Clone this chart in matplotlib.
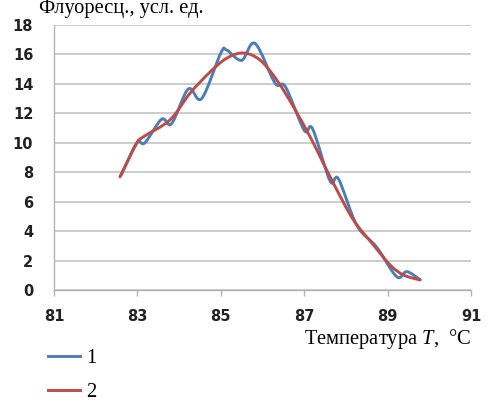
import numpy as np
import matplotlib
matplotlib.use("Agg")
import matplotlib.pyplot as plt
from matplotlib.path import Path
from matplotlib.patches import PathPatch
from matplotlib.lines import Line2D

# measured fluorescence (curve 1) and its fit (curve 2)
t1 = [82.61, 82.74, 83.00, 83.18, 83.58, 83.82, 84.22, 84.54, 85.00, 85.14,
      85.50, 85.82, 86.30, 86.55, 87.00, 87.20, 87.62, 87.82, 88.26, 88.74,
      89.22, 89.46, 89.78]
f1 = [7.8, 8.6, 10.05, 10.0, 11.6, 11.3, 13.65, 13.0, 16.1, 16.3,
      15.6, 16.75, 14.05, 13.8, 10.85, 10.95, 7.4, 7.55, 4.4, 2.9,
      0.9, 1.25, 0.7]

t2 = [82.58, 82.97, 83.14, 83.78, 84.26, 84.74, 85.14, 85.54, 85.94, 86.34,
      86.74, 87.14, 87.38, 87.70, 88.18, 88.66, 89.06, 89.38, 89.78]
f2 = [7.68, 9.9, 10.4, 11.55, 13.36, 14.8, 15.74, 16.1, 15.62, 14.27,
      12.45, 10.41, 9.06, 7.25, 4.76, 3.06, 1.70, 1.02, 0.68]

x_ticks = [81, 83, 85, 87, 89, 91]
y_ticks = [0, 2, 4, 6, 8, 10, 12, 14, 16, 18]

BLUE = "#4a7ebb"
RED = "#be4b48"


def smooth_path(x, y):
    # excel-like smoothed line: catmull-rom segments as cubic beziers
    p = np.column_stack([x, y]).astype(float)
    p = np.vstack([p[0], p, p[-1]])
    verts = [p[1]]
    codes = [Path.MOVETO]
    for i in range(1, len(p) - 2):
        c1 = p[i] + (p[i + 1] - p[i - 1]) / 6
        c2 = p[i + 1] - (p[i + 2] - p[i]) / 6
        verts += [c1, c2, p[i + 1]]
        codes += [Path.CURVE4] * 3
    return Path(verts, codes)


plt.rcParams["mathtext.fontset"] = "custom"
plt.rcParams["mathtext.it"] = "Liberation Serif:italic"
plt.rcParams["mathtext.rm"] = "Liberation Serif"

fig = plt.figure(figsize=(4.97, 4.11), dpi=100)
ax = fig.add_axes([0.1087, 0.2944, 0.8390, 0.6448])

for xs, ys, c in [(t1, f1, BLUE), (t2, f2, RED)]:
    ax.add_patch(PathPatch(smooth_path(xs, ys), fill=False, edgecolor=c,
                           lw=2.1, capstyle="round", joinstyle="round"))

ax.set_xlim(81, 91)
ax.set_ylim(0, 18)
ax.set_xticks(x_ticks)
ax.set_yticks(y_ticks)
ax.grid(axis="y", color="#c4c4c4", lw=1.2)
ax.set_axisbelow(True)
for s in ["top", "right"]:
    ax.spines[s].set_visible(False)
for s in ["left", "bottom"]:
    ax.spines[s].set_color("#b4b4b4")
    ax.spines[s].set_linewidth(1.0)
ax.tick_params(axis="y", length=0, pad=15)
ax.tick_params(axis="x", length=4, width=1, color="#b4b4b4", pad=10)
for lab in ax.get_xticklabels() + ax.get_yticklabels():
    lab.set_fontfamily("DejaVu Sans")
    lab.set_fontweight("bold")
    lab.set_fontsize(10.5)
    lab.set_color("#222222")

fig.text(0.0785, 0.968, "Флуоресц., усл. ед.", family="Liberation Serif",
         fontsize=14.8, va="baseline", ha="left")
fig.text(0.948, 0.163, "Температура $T$,  °C", family="Liberation Serif",
         fontsize=14.8, va="baseline", ha="right")

handles = [Line2D([], [], color=BLUE, lw=2.1), Line2D([], [], color=RED, lw=2.1)]
fig.legend(handles, ["1", "2"], loc="upper left", bbox_to_anchor=(0.0805, 0.172),
           frameon=False, prop={"family": "Liberation Serif", "size": 14.8},
           handlelength=1.55, handletextpad=0.3, labelspacing=0.72,
           borderpad=0.4, borderaxespad=0)

fig.savefig("out.png", dpi=100)
